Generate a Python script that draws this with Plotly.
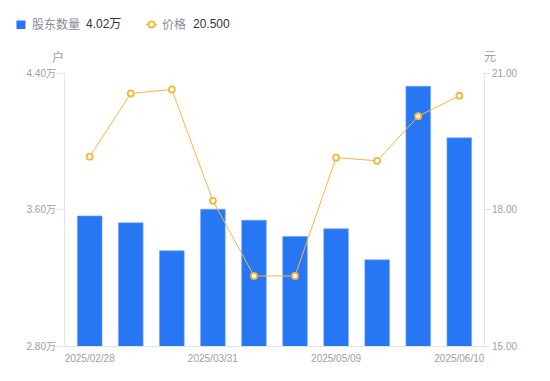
import plotly.graph_objects as go

dates = ["2025/02/28", "2025/03/10", "2025/03/20", "2025/03/31", "2025/04/10",
         "2025/04/30", "2025/05/09", "2025/05/20", "2025/05/30", "2025/06/10"]
holders_wan = [3.562, 3.522, 3.358, 3.602, 3.537, 3.442, 3.487, 3.305, 4.322, 4.02]
price = [19.16, 20.55, 20.64, 18.19, 16.54, 16.54, 19.14, 19.07, 20.05, 20.50]
shown_dates = ["2025/02/28", "2025/03/31", "2025/05/09", "2025/06/10"]
left_ticks = [2.80, 3.60, 4.40]
right_ticks = [15.00, 18.00, 21.00]

BLUE = "#2777F4"
ORANGE = "#F9B43C"
GRAY = "#9d9daf"
AXIS = "#e3e3e8"
FONT = "Arial, 'Noto Sans CJK SC', sans-serif"

OFF = 8  # default page body margin
W, H = 534, 365
L, T = 65 - OFF, 73 - OFF
R = W - (484 - OFF)
B = H - (346 - OFF)
pw, ph = W - L - R, H - T - B


def px(x):
    return (x - OFF - L) / pw


def py(y):
    return (H - B - (y - OFF)) / ph


fig = go.Figure()
fig.add_trace(go.Bar(
    x=dates, y=holders_wan, name="股东数量",
    marker=dict(color=BLUE, line=dict(color="#6ea3f7", width=0.6)),
    width=0.6, yaxis="y", showlegend=False,
))
fig.add_trace(go.Scatter(
    x=dates, y=price, name="价格", mode="lines+markers",
    line=dict(color=ORANGE, width=1),
    marker=dict(symbol="circle", size=6, color="white",
                line=dict(color=ORANGE, width=1.8)),
    yaxis="y2", showlegend=False,
))

fig.update_layout(
    width=W, height=H,
    margin=dict(l=L, r=R, t=T, b=B, autoexpand=False),
    paper_bgcolor="white", plot_bgcolor="white",
    font=dict(family=FONT, size=10, color=GRAY),
    bargap=0.4,
    xaxis=dict(
        type="category", categoryorder="array", categoryarray=dates,
        tickmode="array", tickvals=shown_dates, ticktext=shown_dates,
        showline=True, linecolor=AXIS, linewidth=1, showgrid=False,
        ticks="", tickfont=dict(size=10, color=GRAY), zeroline=False,
        automargin=False, ticklabelstandoff=3,
    ),
    yaxis=dict(
        range=[2.80, 4.40], tickmode="array", tickvals=left_ticks,
        ticktext=[f"{v:.2f}万" for v in left_ticks],
        showline=True, linecolor=AXIS, linewidth=1, showgrid=False,
        ticks="outside", ticklen=6, tickcolor=AXIS, zeroline=False,
        tickfont=dict(size=10, color=GRAY), automargin=False,
    ),
    yaxis2=dict(
        range=[15, 21], tickmode="array", tickvals=right_ticks,
        ticktext=[f"{v:.2f}" for v in right_ticks],
        overlaying="y", side="right",
        showline=True, linecolor=AXIS, linewidth=1, showgrid=False,
        ticks="outside", ticklen=5, tickcolor=AXIS, zeroline=False,
        tickfont=dict(size=10, color=GRAY), automargin=False,
    ),
    showlegend=False,
)

# axis unit titles
fig.add_annotation(xref="paper", yref="paper", x=px(58), y=py(57), text="户",
                   showarrow=False, font=dict(size=12, color=GRAY),
                   xanchor="center", yanchor="middle")
fig.add_annotation(xref="paper", yref="paper", x=px(490), y=py(57), text="元",
                   showarrow=False, font=dict(size=12, color=GRAY),
                   xanchor="center", yanchor="middle")

# legend
ly = py(24.5)
fig.add_shape(type="rect", xref="paper", yref="paper",
              x0=px(16.5), x1=px(25.5), y0=py(29), y1=py(20.5),
              fillcolor=BLUE, line=dict(width=0))
fig.add_annotation(xref="paper", yref="paper", x=px(30), y=ly, text="股东数量",
                   showarrow=False, font=dict(size=12, color="#8a8a99"),
                   xanchor="left", yanchor="middle")
fig.add_annotation(xref="paper", yref="paper", x=px(84), y=ly,
                   text=f"{holders_wan[-1]:.2f}万",
                   showarrow=False, font=dict(size=12, color="#333333"),
                   xanchor="left", yanchor="middle")
fig.add_shape(type="line", xref="paper", yref="paper",
              x0=px(146), x1=px(157), y0=ly, y1=ly,
              line=dict(color=ORANGE, width=1.5))
fig.add_shape(type="circle", xref="paper", yref="paper",
              x0=px(148.5), x1=px(154.5), y0=py(27.5), y1=py(21.5),
              fillcolor="white", line=dict(color=ORANGE, width=1.8))
fig.add_annotation(xref="paper", yref="paper", x=px(160), y=ly, text="价格",
                   showarrow=False, font=dict(size=12, color="#8a8a99"),
                   xanchor="left", yanchor="middle")
fig.add_annotation(xref="paper", yref="paper", x=px(191), y=ly,
                   text=f"{price[-1]:.3f}",
                   showarrow=False, font=dict(size=12, color="#333333"),
                   xanchor="left", yanchor="middle")

fig.write_html("out.html")
